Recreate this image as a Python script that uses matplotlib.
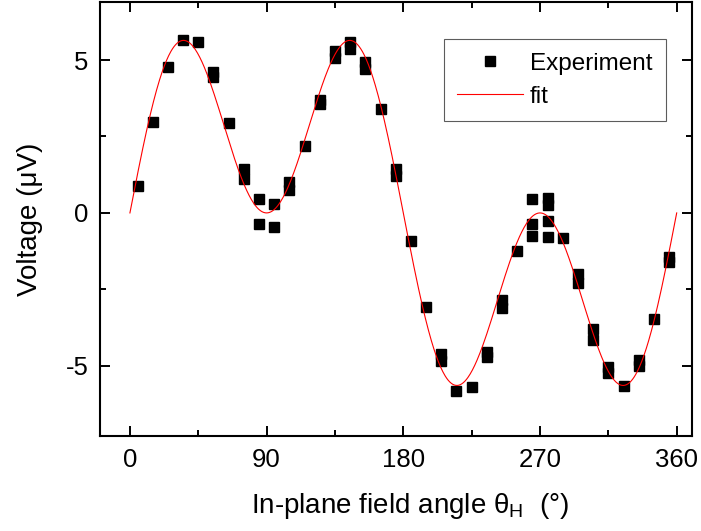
import numpy as np
import matplotlib
matplotlib.use('Agg')
import matplotlib.pyplot as plt
from matplotlib.ticker import MultipleLocator

plt.rcParams['font.family'] = ['Liberation Sans', 'DejaVu Sans']
plt.rcParams['mathtext.fontset'] = 'custom'
plt.rcParams['mathtext.rm'] = 'Liberation Sans'
plt.rcParams['mathtext.it'] = 'Liberation Sans:italic'
plt.rcParams['axes.unicode_minus'] = False

# measured points (angle in deg, voltage in uV)
angle = [5, 15, 25, 35, 45, 55, 55, 65, 75, 75, 85, 85, 95, 95, 105, 105,
         115, 125, 125, 135, 135, 145, 145, 155, 155, 165, 175, 175,
         185, 195, 205, 205, 215, 225, 235, 235, 245, 245, 255,
         265, 265, 265, 275, 275, 275, 275, 285, 295, 295, 305, 305,
         315, 315, 325, 335, 335, 345, 355, 355]
voltage = [0.88, 2.97, 4.77, 5.64, 5.58, 4.6, 4.45, 2.93, 1.45, 1.1, 0.45, -0.37,
           0.28, -0.46, 1.0, 0.75,
           2.19, 3.7, 3.55, 5.3, 5.05, 5.6, 5.35, 4.95, 4.7, 3.39, 1.45, 1.2,
           -0.91, -3.07, -4.6, -4.85, -5.82, -5.70, -4.55, -4.72, -2.85, -3.1, -1.24,
           0.45, -0.37, -0.75, 0.5, 0.25, -0.27, -0.8, -0.82, -2.0, -2.3, -3.81, -4.16,
           -5.05, -5.25, -5.66, -4.8, -5.0, -3.47, -1.43, -1.6]

# fit V = A sin(th) cos^2(th) by least squares
th = np.radians(angle)
basis = np.sin(th) * np.cos(th) ** 2
A = np.sum(basis * np.array(voltage)) / np.sum(basis ** 2)
fit_x = np.linspace(0, 360, 721)
fit_y = A * np.sin(np.radians(fit_x)) * np.cos(np.radians(fit_x)) ** 2

fig = plt.figure(figsize=(7.01, 5.31), dpi=100)
ax = fig.add_axes([0.142, 0.178, 0.845, 0.819])

ax.plot(angle, voltage, 's', color='black', markersize=6.8, label='Experiment')
ax.plot(fit_x, fit_y, '-', color='red', lw=0.8, label='fit')

ax.set_xlim(-20, 370)
ax.set_ylim(-7.31, 6.91)
ax.xaxis.set_major_locator(MultipleLocator(90))
ax.xaxis.set_minor_locator(MultipleLocator(45))
ax.yaxis.set_major_locator(MultipleLocator(5))
ax.yaxis.set_minor_locator(MultipleLocator(2.5))

ax.tick_params(which='both', direction='in', top=True, right=True, width=1.4, labelsize=18.5)
ax.tick_params(which='major', length=7.2, pad=8)
ax.tick_params(which='minor', length=4.3)
for s in ax.spines.values():
    s.set_linewidth(1.5)

ax.set_xlabel(r'In-plane field angle $\mathregular{\theta_H}$  (°)', fontsize=20)
ax.xaxis.set_label_coords(0.525, -0.125)
ax.set_ylabel('Voltage (μV)', fontsize=20, labelpad=16)

leg = ax.legend(loc='upper right', bbox_to_anchor=(0.956, 0.913), borderaxespad=0,
                fancybox=False, fontsize=17.5, handlelength=2.7, handletextpad=0.3,
                labelspacing=0.45, borderpad=0.55)
leg.get_frame().set_edgecolor('#333333')
leg.get_frame().set_linewidth(0.8)

fig.savefig('out.png', dpi=100)
